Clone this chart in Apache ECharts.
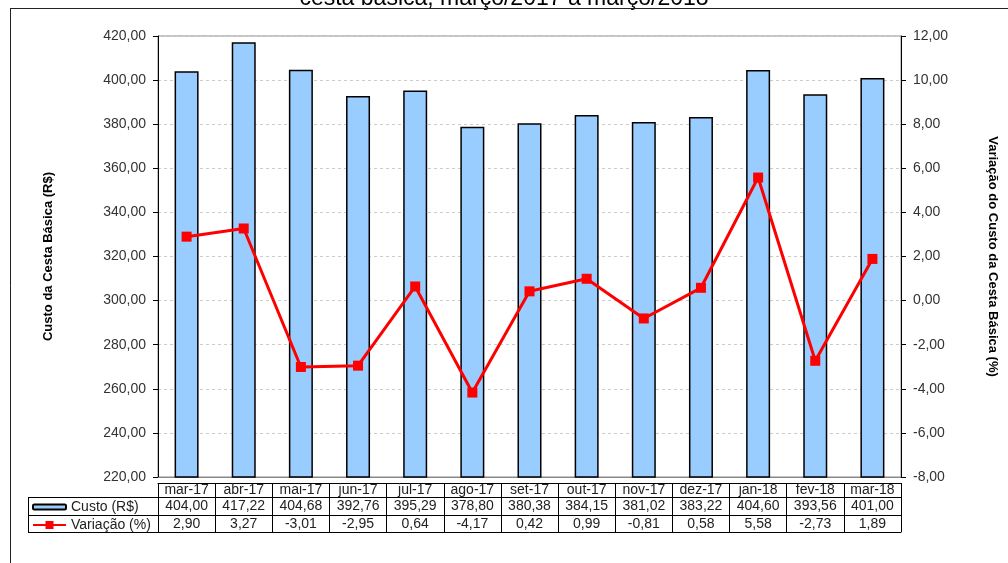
<!DOCTYPE html>
<html>
<head>
<meta charset="utf-8">
<script src="https://cdn.jsdelivr.net/npm/echarts@6/dist/echarts.min.js"></script>
<style>html,body{margin:0;padding:0;background:#fff;}#c{width:1008px;height:563px;}</style>
</head>
<body>
<div id="c"></div>
<script>
const months = ['mar-17','abr-17','mai-17','jun-17','jul-17','ago-17','set-17','out-17','nov-17','dez-17','jan-18','fev-18','mar-18'];
const custo = [404.00,417.22,404.68,392.76,395.29,378.80,380.38,384.15,381.02,383.22,404.60,393.56,401.00];
const variacao = [2.90,3.27,-3.01,-2.95,0.64,-4.17,0.42,0.99,-0.81,0.58,5.58,-2.73,1.89];
const titleText = 'cesta básica, março/2017 a março/2018';
const leftName = 'Custo da Cesta Básica (R$)';
const rightName = 'Variação do Custo da Cesta Básica (%)';

const fmt = v => Number(v).toFixed(2).replace('.', ',');
const FONT = 'Liberation Sans, Arial, sans-serif';
const FS = 14;
const chart = echarts.init(document.getElementById('c'));

const lbl = (margin, formatter) => ({show: true, interval: 0, color: '#222', fontFamily: FONT, fontSize: FS, margin: margin, formatter: formatter});
const tableAxis = (data, offset, opts) => Object.assign({
  type: 'category', data: data, gridIndex: 0, position: 'bottom', offset: offset,
  axisLine: {show: true, onZero: false, lineStyle: {color: '#000', width: 1}},
  axisTick: {show: false},
  axisLabel: lbl(2),
  splitLine: {show: false}
}, opts || {});

chart.setOption({
  animation: false,
  backgroundColor: '#fff',
  grid: {left: 158, right: 107, top: 36, bottom: 86, show: true, borderColor: '#888', borderWidth: 1},
  legend: [
    {data: ['Custo (R$)'], orient: 'vertical', left: 32, top: 500, padding: 0, itemWidth: 33, itemHeight: 5, itemGap: 0,
     textStyle: {fontFamily: FONT, fontSize: FS, color: '#222'}},
    {data: ['Variação (%)'], orient: 'vertical', left: 32, top: 518, padding: 0, itemWidth: 33, itemHeight: 10, itemGap: 0,
     textStyle: {fontFamily: FONT, fontSize: FS, color: '#222'}}
  ],
  xAxis: [
    {type: 'category', data: months, axisLine: {show: true, onZero: false, lineStyle: {color: '#888'}}, axisTick: {show: false}, axisLabel: {show: false}},
    tableAxis(months, 6, {axisTick: {show: true, interval: 0, length: 49, lineStyle: {color: '#000'}}, axisLabel: lbl(0)}),
    tableAxis(custo, 20, {axisLabel: lbl(2, v => fmt(v))}),
    tableAxis(variacao, 38, {axisLabel: lbl(2, v => fmt(v))}),
    tableAxis(months, 55, {axisLabel: {show: false}})
  ],
  yAxis: [
    {type: 'value', min: 220, max: 420, interval: 20, position: 'left',
     name: leftName, nameLocation: 'middle', nameGap: 103, nameRotate: 90,
     nameTextStyle: {fontFamily: FONT, fontSize: 13, fontWeight: 'bold', color: '#000'},
     axisLine: {show: true, lineStyle: {color: '#000', width: 1}},
     axisTick: {show: true, length: 5, lineStyle: {color: '#000'}},
     axisLabel: {color: '#333', fontFamily: FONT, fontSize: FS, margin: 12, formatter: v => fmt(v)},
     splitLine: {show: true, lineStyle: {color: '#ccc', type: [3, 3]}}},
    {type: 'value', min: -8, max: 12, interval: 2, position: 'right',
     name: rightName, nameLocation: 'middle', nameGap: 85, nameRotate: -90,
     nameTextStyle: {fontFamily: FONT, fontSize: 13, fontWeight: 'bold', color: '#000'},
     axisLine: {show: true, lineStyle: {color: '#000', width: 1}},
     axisTick: {show: true, length: 5, lineStyle: {color: '#000'}},
     axisLabel: {color: '#333', fontFamily: FONT, fontSize: FS, margin: 12, formatter: v => fmt(v)},
     splitLine: {show: false}}
  ],
  series: [
    {name: 'Custo (R$)', type: 'bar', xAxisIndex: 0, yAxisIndex: 0, data: custo, barWidth: '42%',
     itemStyle: {color: '#99CCFF', borderColor: '#000', borderWidth: 1.5}},
    {name: 'Variação (%)', type: 'line', xAxisIndex: 0, yAxisIndex: 1, data: variacao,
     symbol: 'rect', symbolSize: 10, lineStyle: {color: '#FF0000', width: 3},
     itemStyle: {color: '#FF0000'}}
  ],
  graphic: [
    {type: 'text', left: 'center', top: -13, style: {text: titleText, font: '23px ' + FONT, fill: '#000'}},
    {type: 'line', shape: {x1: 10, y1: 8.5, x2: 1008, y2: 8.5}, style: {stroke: '#222', lineWidth: 1}},
    {type: 'line', shape: {x1: 10.5, y1: 8.5, x2: 10.5, y2: 563}, style: {stroke: '#222', lineWidth: 1}},
    {type: 'line', shape: {x1: 28, y1: 497.5, x2: 158, y2: 497.5}, style: {stroke: '#000', lineWidth: 1}},
    {type: 'line', shape: {x1: 28, y1: 515.5, x2: 158, y2: 515.5}, style: {stroke: '#000', lineWidth: 1}},
    {type: 'line', shape: {x1: 28, y1: 532.5, x2: 158, y2: 532.5}, style: {stroke: '#000', lineWidth: 1}},
    {type: 'line', shape: {x1: 28.5, y1: 497.5, x2: 28.5, y2: 532.5}, style: {stroke: '#000', lineWidth: 1}}
  ]
});
</script>
</body>
</html>
